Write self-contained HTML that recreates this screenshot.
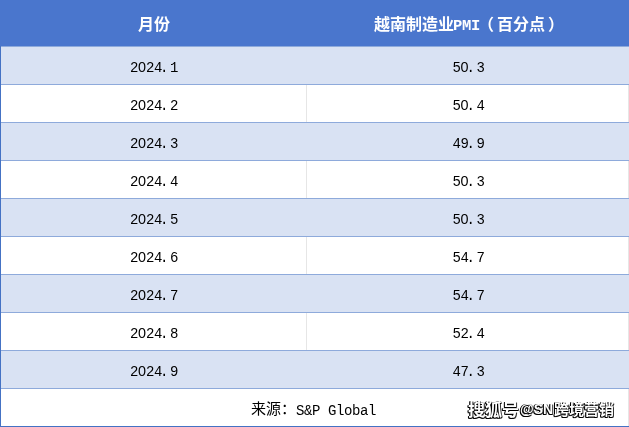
<!DOCTYPE html>
<html><head><meta charset="utf-8"><style>
html,body{margin:0;padding:0;}
body{width:629px;height:427px;position:relative;overflow:hidden;background:#fff;}
span,.wm{will-change:transform;}
.hdr{position:absolute;left:0;top:0;width:629px;height:46px;background:#4A76CD;color:#fff;font-weight:bold;font-size:16px;font-family:"Noto Sans CJK SC",sans-serif;}
.hdr span{position:absolute;top:13px;line-height:20px;white-space:nowrap;}
.hdr .m{font-family:"Liberation Mono",monospace;font-size:15.5px;letter-spacing:-0.3px;top:16px;}
.hb{position:absolute;left:0;width:629px;height:1px;background:#8EAADB;}
.row{position:absolute;left:0;width:629px;height:37px;font-family:"Liberation Mono",monospace;font-size:14px;color:#000;}
.row span{letter-spacing:-0.4px;}
.row i{font-style:normal;position:relative;left:-2px;}
.row b{font-weight:normal;font-family:"Liberation Sans",sans-serif;font-size:14.4px;letter-spacing:0;line-height:1;}
.row.lt{background:#D9E2F3;}
.row.wt{background:#fff;}
.row.wt .c1{border-right:1px solid #E6E6E6;}
.row.wt .c2{border-right:1px solid #E6E6E6;}
.c1,.c2{position:absolute;top:0;height:37px;text-align:center;white-space:nowrap;}
.c1 span,.c2 span{position:relative;top:3px;left:1px;line-height:37px;}
.c1{left:0;width:306px;}
.c2{left:307px;width:321px;}
.ftr{position:absolute;left:0;top:389px;width:628px;height:37px;border-right:1px solid #E6E6E6;}
.ftr span{position:absolute;top:12px;line-height:20px;white-space:nowrap;}
.ftr .cj{font-family:"Noto Sans CJK SC",sans-serif;font-size:15px;top:9px;}
.ftr .lm{font-family:"Liberation Mono",monospace;font-size:14px;letter-spacing:-0.4px;}
.bb{position:absolute;left:0;top:426px;width:629px;height:1px;background:#4472C4;}
.lb{position:absolute;left:0;top:46px;width:1px;height:381px;background:#4472C4;}
.wm{position:absolute;font-family:"Noto Sans CJK SC",sans-serif;font-weight:bold;line-height:20px;color:#fff;text-shadow:-1px 1px 0 #000,0 1px 0 #000,-1px 0 0 #000,1px 1px 0 rgba(0,0,0,.7),1px 0 0 rgba(0,0,0,.4);white-space:nowrap;will-change:transform;}
</style></head><body>
<div class="hdr"><span style="left:138px">月份</span><span style="left:374px">越南制造业</span><span class="m" style="left:453px">PMI</span><span style="left:478px">（</span><span style="left:497px">百分点</span><span style="left:548px">）</span></div>
<div class="hb" style="top:46px"></div>
<div class="row lt" style="top:47px"><div class="c1"><span>2<b>0</b>24<i>.</i>1</span></div><div class="c2"><span>5<b>0</b><i>.</i>3</span></div></div><div class="hb" style="top:84px"></div><div class="row wt" style="top:85px"><div class="c1"><span>2<b>0</b>24<i>.</i>2</span></div><div class="c2"><span>5<b>0</b><i>.</i>4</span></div></div><div class="hb" style="top:122px"></div><div class="row lt" style="top:123px"><div class="c1"><span>2<b>0</b>24<i>.</i>3</span></div><div class="c2"><span>49<i>.</i>9</span></div></div><div class="hb" style="top:160px"></div><div class="row wt" style="top:161px"><div class="c1"><span>2<b>0</b>24<i>.</i>4</span></div><div class="c2"><span>5<b>0</b><i>.</i>3</span></div></div><div class="hb" style="top:198px"></div><div class="row lt" style="top:199px"><div class="c1"><span>2<b>0</b>24<i>.</i>5</span></div><div class="c2"><span>5<b>0</b><i>.</i>3</span></div></div><div class="hb" style="top:236px"></div><div class="row wt" style="top:237px"><div class="c1"><span>2<b>0</b>24<i>.</i>6</span></div><div class="c2"><span>54<i>.</i>7</span></div></div><div class="hb" style="top:274px"></div><div class="row lt" style="top:275px"><div class="c1"><span>2<b>0</b>24<i>.</i>7</span></div><div class="c2"><span>54<i>.</i>7</span></div></div><div class="hb" style="top:312px"></div><div class="row wt" style="top:313px"><div class="c1"><span>2<b>0</b>24<i>.</i>8</span></div><div class="c2"><span>52<i>.</i>4</span></div></div><div class="hb" style="top:350px"></div><div class="row lt" style="top:351px"><div class="c1"><span>2<b>0</b>24<i>.</i>9</span></div><div class="c2"><span>47<i>.</i>3</span></div></div><div class="hb" style="top:388px"></div>
<div class="ftr"><span class="cj" style="left:251px">来源：</span><span class="lm" style="left:296px">S&amp;P Global</span></div>
<div class="bb"></div>
<div class="lb"></div>
<div class="wm" style="left:468px;top:399px;font-size:17px">搜狐号</div><div class="wm" style="left:520px;top:399px;font-size:14px;font-family:&quot;Liberation Sans&quot;,&quot;Noto Sans CJK SC&quot;,sans-serif">@SN</div><div class="wm" style="left:554px;top:399px;font-size:15px">跨境营销</div>
</body></html>
